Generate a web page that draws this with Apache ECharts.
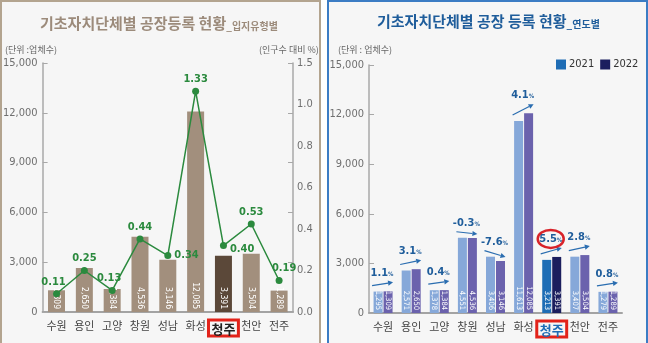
<!DOCTYPE html>
<html>
<head>
<meta charset="utf-8">
<script src="https://cdn.jsdelivr.net/npm/echarts@6/dist/echarts.min.js"></script>
<style>
  html, body { margin: 0; padding: 0; background: #ffffff; }
  #wrap { position: relative; width: 648px; height: 343px; overflow: hidden; }
  .panel { position: absolute; top: 0; height: 360px; box-sizing: border-box; background: #f6f6f6; }
  #panelA { left: 0; width: 321px; border: 2px solid #b3a48f; }
  #panelB { left: 327px; width: 321px; border: 2px solid #3b7cc4; }
  #chart { position: absolute; left: 0; top: 0; width: 648px; height: 343px; }
</style>
</head>
<body>
<div id="wrap">
  <div class="panel" id="panelA"></div>
  <div class="panel" id="panelB"></div>
  <div id="chart"></div>
</div>
<script>
// Factory registrations by local government
const categories = ['수원', '용인', '고양', '창원', '성남', '화성', '청주', '천안', '전주'];
const factories2022 = [1309, 2650, 1384, 4536, 3146, 12085, 3391, 3504, 1289];
const factories2021 = [1295, 2571, 1378, 4551, 3406, 11613, 3213, 3407, 1279];
const ratioToPopulation = [0.11, 0.25, 0.13, 0.44, 0.34, 1.33, 0.40, 0.53, 0.19];
const changeRate = [1.1, 3.1, 0.4, -0.3, -7.6, 4.1, 5.5, 2.8, 0.8];
const ratioTickLabels = ['0.0', '0.2', '0.4', '0.6', '0.8', '1.0', '1.5'];
const highlightCity = '청주';

// label placement for the ratio line
const ratioLabelPos = ['top', 'top', 'top', 'top', 'right', 'top', 'right', 'top', 'top'];
const ratioLabelShift = [[-3, 0], [0, 0], [-3, 0], [0, 0], [0, 0], [0, 0], [0, 4], [0, 0], [5, 0]];

const KR = '"Noto Sans CJK KR", "Noto Sans", sans-serif';
const NARROW = '"Liberation Sans Narrow", "DejaVu Sans Condensed", "Roboto", sans-serif';

const fmt = v => String(v).replace(/\B(?=(\d{3})+(?!\d))/g, ',');

const chart = echarts.init(document.getElementById('chart'), null, { renderer: 'canvas' });

function catAxis(gridIndex, hlColor) {
  return {
    type: 'category', gridIndex: gridIndex, data: categories,
    axisLine: { lineStyle: { color: '#a3a3a3', width: 2 } },
    axisTick: { show: false },
    axisLabel: {
      interval: 0,
      color: '#444', fontSize: 11, fontFamily: KR, margin: 8,
      formatter: v => v === highlightCity ? '{hl|' + v + '}' : v,
      rich: {
        hl: {
          fontSize: 13, fontWeight: 'bold', fontFamily: KR, color: hlColor,
          borderColor: '#e2231a', borderWidth: 3, padding: [3, 3, 0, 3]
        }
      }
    }
  };
}

function countAxis(gridIndex) {
  return {
    type: 'value', gridIndex: gridIndex, min: 0, max: 15000, interval: 3000,
    axisLine: { show: true, lineStyle: { color: '#a8a8a8', width: 1.5 } },
    axisTick: { show: true, inside: true, length: 5, lineStyle: { color: '#a8a8a8' } },
    axisLabel: { color: '#6f6f6f', fontSize: 11, fontFamily: NARROW, margin: 5, formatter: fmt, padding: [4, 0, 0, 0] },
    splitLine: { show: false }
  };
}

const option = {
  animation: false,
  backgroundColor: 'transparent',
  graphic: [
    {
      type: 'text', left: 40, top: 16,
      style: {
        text: '{a|기초자치단체별 공장등록 현황}{b|_입지유형별}',
        rich: {
          a: { fontSize: 15, fontWeight: 'bold', fontFamily: KR, fill: '#9c8b7b', color: '#9c8b7b' },
          b: { fontSize: 10, fontWeight: 'bold', fontFamily: KR, fill: '#9c8b7b', color: '#9c8b7b', padding: [5, 0, 0, 0] }
        }
      }
    },
    {
      type: 'text', left: 377, top: 14,
      style: {
        text: '{a|기초자치단체별 공장 등록 현황}{b|_연도별}',
        rich: {
          a: { fontSize: 15, fontWeight: 'bold', fontFamily: KR, fill: '#1f5d9b', color: '#1f5d9b' },
          b: { fontSize: 10, fontWeight: 'bold', fontFamily: KR, fill: '#1f5d9b', color: '#1f5d9b', padding: [5, 0, 0, 0] }
        }
      }
    },
    { type: 'text', left: 5, top: 45, style: { text: '(단위 :업체수)', fontSize: 9, fontFamily: KR, fill: '#666' } },
    { type: 'text', left: 259, top: 45, style: { text: '(인구수 대비 %)', fontSize: 9, fontFamily: KR, fill: '#666' } },
    { type: 'text', left: 338, top: 45, style: { text: '(단위 : 업체수)', fontSize: 9, fontFamily: KR, fill: '#666' } }
  ],
  legend: {
    orient: 'horizontal',
    data: [
      { name: '2021', itemStyle: { color: '#1f6db5' } },
      { name: '2022', itemStyle: { color: '#1b1e5e' } }
    ],
    left: 556, top: 59, width: 90, itemWidth: 10, itemHeight: 10, itemGap: 6, icon: 'rect',
    padding: 0,
    textStyle: { fontSize: 11, color: '#333', fontFamily: NARROW, padding: [0, 0, 0, -2] }
  },
  grid: [
    { left: 41, top: 63, width: 252, height: 249 },
    { left: 369, top: 65, width: 253, height: 248 }
  ],
  xAxis: [catAxis(0, '#222'), catAxis(1, '#1f6db5')],
  yAxis: [
    countAxis(0),
    {
      type: 'value', gridIndex: 0, position: 'right', min: 0, max: 1.5, interval: 0.3,
      axisLine: { show: true, lineStyle: { color: '#a8a8a8', width: 1.5 } },
      axisTick: { show: true, inside: true, length: 5, lineStyle: { color: '#a8a8a8' } },
      axisLabel: { show: false },
      splitLine: { show: false }
    },
    {
      type: 'value', gridIndex: 0, position: 'right', min: 0, max: 6, interval: 1,
      axisLine: { show: false }, axisTick: { show: false }, splitLine: { show: false },
      axisLabel: {
        color: '#6f6f6f', fontSize: 11, fontFamily: NARROW, margin: 4, padding: [4, 0, 0, 0],
        formatter: v => ratioTickLabels[Math.round(v)] || ''
      }
    },
    countAxis(1)
  ],
  series: [
    {
      name: '공장등록', type: 'bar', xAxisIndex: 0, yAxisIndex: 0, barWidth: 17,
      data: factories2022.map((v, i) => ({
        value: v,
        itemStyle: { color: categories[i] === highlightCity ? '#5b4839' : '#a28f7d' }
      })),
      label: {
        show: true, position: 'insideBottom', rotate: -90, align: 'right', verticalAlign: 'middle',
        distance: 3, color: '#ffffff', fontSize: 8.5, fontFamily: NARROW, formatter: p => fmt(p.value)
      },
      z: 2
    },
    {
      name: '인구수 대비', type: 'line', xAxisIndex: 0, yAxisIndex: 1,
      symbol: 'circle', symbolSize: 7,
      lineStyle: { color: '#2b8a3e', width: 1.5 },
      itemStyle: { color: '#2b8a3e' },
      data: ratioToPopulation.map((v, i) => ({
        value: v,
        label: { position: ratioLabelPos[i], offset: ratioLabelShift[i] }
      })),
      label: {
        show: true, distance: 3, color: '#2b8a3e', fontSize: 11, fontWeight: 'bold', fontFamily: NARROW,
        formatter: p => Number(p.value).toFixed(2)
      },
      z: 5
    },
    {
      name: '2021', type: 'bar', xAxisIndex: 1, yAxisIndex: 3, barWidth: 9, barGap: '11%',
      data: factories2021.map((v, i) => ({
        value: v,
        itemStyle: { color: categories[i] === highlightCity ? '#1f6db5' : '#86a8d9' }
      })),
      label: {
        show: true, position: 'insideBottom', rotate: -90, align: 'right', verticalAlign: 'middle',
        distance: 3, color: '#ffffff', fontSize: 7.5, fontFamily: NARROW, formatter: p => fmt(p.value)
      }
    },
    {
      name: '2022', type: 'bar', xAxisIndex: 1, yAxisIndex: 3, barWidth: 9, barGap: '11%',
      data: factories2022.map((v, i) => ({
        value: v,
        itemStyle: { color: categories[i] === highlightCity ? '#1b1e5e' : '#6b62ad' }
      })),
      label: {
        show: true, position: 'insideBottom', rotate: -90, align: 'right', verticalAlign: 'middle',
        distance: 3, color: '#ffffff', fontSize: 7.5, fontFamily: NARROW, formatter: p => fmt(p.value)
      }
    },
    {
      // year-over-year change arrows with rate labels
      name: '증감률', type: 'custom', xAxisIndex: 1, yAxisIndex: 3, z: 10,
      encode: { x: 0, y: [1, 2] },
      data: categories.map((c, i) => [i, factories2021[i], factories2022[i], changeRate[i]]),
      renderItem: function (params, api) {
        const i = api.value(0);
        const a = api.coord([i, api.value(1)]);
        const b = api.coord([i, api.value(2)]);
        const pct = api.value(3);
        const cx = a[0];
        const x1 = cx - 11, x2 = cx + 10;
        const y1 = a[1] - 6;
        const y2 = b[1] - (pct >= 0 ? 9 : 4);
        const ang = Math.atan2(y2 - y1, x2 - x1);
        const hl = 5, hw = 2.6;
        const bx = x2 - hl * Math.cos(ang), by = y2 - hl * Math.sin(ang);
        const px = -Math.sin(ang), py = Math.cos(ang);
        const color = '#2a6db0';
        const ty = Math.min(y1, y2) - 9;
        const children = [
          { type: 'line', shape: { x1: x1, y1: y1, x2: bx, y2: by }, style: { stroke: color, lineWidth: 1.2 } },
          {
            type: 'polygon',
            shape: { points: [[x2, y2], [bx + px * hw, by + py * hw], [bx - px * hw, by - py * hw]] },
            style: { fill: color }
          },
          {
            type: 'text', x: cx - 1, y: ty,
            style: {
              text: '{n|' + pct.toFixed(1) + '}{p|%}',
              align: 'center', verticalAlign: 'middle',
              rich: {
                n: { fontSize: 11, fontWeight: 'bold', fontFamily: NARROW, fill: '#1f5d9b' },
                p: { fontSize: 6, fontWeight: 'bold', fontFamily: NARROW, fill: '#1f5d9b', padding: [3, 0, 0, 0] }
              }
            }
          }
        ];
        if (categories[i] === highlightCity) {
          const rx = 13, ry = 9, ex = cx - 1, ey = ty;
          children.push({
            type: 'path',
            shape: {
              pathData: 'M' + (ex - rx) + ' ' + ey + ' A' + rx + ' ' + ry + ' 0 1 0 ' + (ex + rx) + ' ' + ey +
                ' A' + rx + ' ' + ry + ' 0 1 0 ' + (ex - rx) + ' ' + ey + ' Z',
              x: ex - rx, y: ey - ry, width: rx * 2, height: ry * 2
            },
            style: { fill: 'none', stroke: '#d8232a', lineWidth: 2.5 }
          });
        }
        return { type: 'group', children: children };
      }
    }
  ]
};

chart.setOption(option);
</script>
</body>
</html>
